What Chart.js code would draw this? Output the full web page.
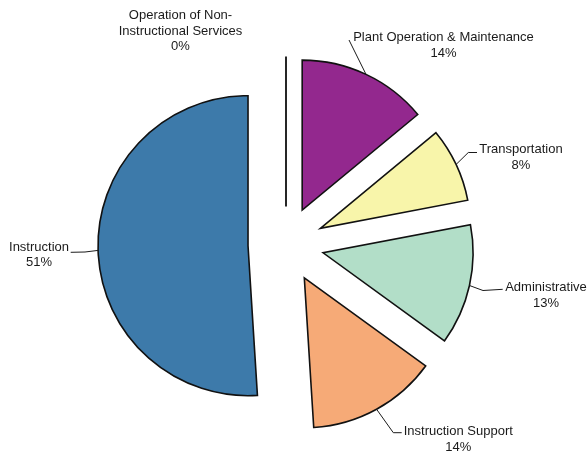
<!DOCTYPE html>
<html>
<head>
<meta charset="utf-8">
<script src="https://cdn.jsdelivr.net/npm/chart.js@4/dist/chart.umd.min.js"></script>
<style>
  html, body { margin: 0; padding: 0; background: #ffffff; }
  #wrap { width: 588px; height: 454px; }
</style>
</head>
<body>
<div id="wrap"><canvas id="c" width="588" height="454"></canvas></div>
<script>
// Spending categories, clockwise from 12 o'clock
const categories = [
  'Operation of Non-Instructional Services',
  'Plant Operation & Maintenance',
  'Transportation',
  'Administrative',
  'Instruction Support',
  'Instruction'
];
// Category names as they wrap in the slice labels
const categoryLines = [
  ['Operation of Non-', 'Instructional Services'],
  ['Plant Operation & Maintenance'],
  ['Transportation'],
  ['Administrative'],
  ['Instruction Support'],
  ['Instruction']
];
// Share of total spending, percent
const shares = [0, 14, 8, 13, 14, 51];

const sliceColors = ['#8f8f8f', '#93288E', '#F8F5AA', '#B2DEC8', '#F6AA77', '#3D7AAA'];

const EXPLODE = 38;          // distance each slice is pulled out from the centre
const FONT = '13px "Liberation Sans", Arial, sans-serif';
const LINE_H = 15.5;
const INK = '#1a1a1a';

// Label placement: text block (centre x, first baseline) relative to the pie centre,
// leader points relative to that anchor, ending on the slice rim.
const labelLayout = [
  { dx: -105.5, dy: -225.2, leader: null },
  { dx: 157.5,  dy: -203.5, leader: [[-94.5, -1]] },
  { dx: 235,    dy: -91.5,  leader: [[-44, -0.5], [-52.7, -0.5]] },
  { dx: 260,    dy: 46.5,   leader: [[-43.3, -1.7], [-63, -0.5]] },
  { dx: 172.3,  dy: 190.5,  leader: [[-56.6, -2.3], [-65, -2.3]] },
  { dx: -247,   dy: 6.2,    leader: [[31.7, 1.6], [46, 1.3]] }
];

// Draws every slice pulled out along its own bisector; a zero share is drawn as a spoke
const explodedSlices = {
  id: 'explodedSlices',
  beforeDatasetDraw(chart, args) {
    const ctx = chart.ctx;
    args.meta.data.forEach((arc) => {
      const mid = (arc.startAngle + arc.endAngle) / 2;
      const ox = Math.cos(mid) * EXPLODE;
      const oy = Math.sin(mid) * EXPLODE;
      ctx.save();
      if (arc.endAngle - arc.startAngle <= 0) {
        ctx.strokeStyle = '#262626';
        ctx.lineWidth = 2;
        ctx.beginPath();
        ctx.moveTo(arc.x + ox, arc.y + oy);
        ctx.lineTo(arc.x + Math.cos(mid) * (EXPLODE + arc.outerRadius),
                   arc.y + Math.sin(mid) * (EXPLODE + arc.outerRadius));
        ctx.stroke();
      } else {
        ctx.translate(ox, oy);
        arc.draw(ctx);
      }
      ctx.restore();
    });
    return false;
  },
  afterDraw(chart) {
    const ctx = chart.ctx;
    const meta = chart.getDatasetMeta(0);
    const total = shares.reduce((a, b) => a + b, 0);
    const area = chart.chartArea;
    const cx = (area.left + area.right) / 2;
    const cy = (area.top + area.bottom) / 2;
    ctx.save();
    ctx.font = FONT;
    ctx.fillStyle = INK;
    ctx.strokeStyle = INK;
    ctx.lineWidth = 1;
    ctx.textAlign = 'center';
    ctx.textBaseline = 'alphabetic';
    meta.data.forEach((arc, i) => {
      const lay = labelLayout[i];
      const tx = cx + lay.dx;
      const ty = cy + lay.dy;
      const lines = categoryLines[i].concat([Math.round(shares[i] / total * 100) + '%']);
      lines.forEach((t, k) => ctx.fillText(t, tx, ty + k * LINE_H));
      if (lay.leader) {
        const mid = (arc.startAngle + arc.endAngle) / 2;
        const rx = arc.x + Math.cos(mid) * (EXPLODE + arc.outerRadius);
        const ry = arc.y + Math.sin(mid) * (EXPLODE + arc.outerRadius);
        ctx.beginPath();
        lay.leader.forEach((p, k) => {
          const px = tx + p[0], py = ty + p[1];
          if (k === 0) ctx.moveTo(px, py); else ctx.lineTo(px, py);
        });
        ctx.lineTo(rx, ry);
        ctx.stroke();
      }
    });
    ctx.restore();
  }
};

new Chart(document.getElementById('c'), {
  type: 'pie',
  data: {
    labels: categories,
    datasets: [{
      data: shares,
      backgroundColor: sliceColors,
      borderColor: '#111111',
      borderWidth: 1.6,
      borderJoinStyle: 'miter',
      radius: 150
    }]
  },
  options: {
    responsive: false,
    animation: false,
    devicePixelRatio: 1,
    layout: { padding: { left: 0, right: 16, top: 35, bottom: 0 } },
    plugins: {
      legend: { display: false },
      tooltip: { enabled: false }
    }
  },
  plugins: [explodedSlices]
});
</script>
</body>
</html>
